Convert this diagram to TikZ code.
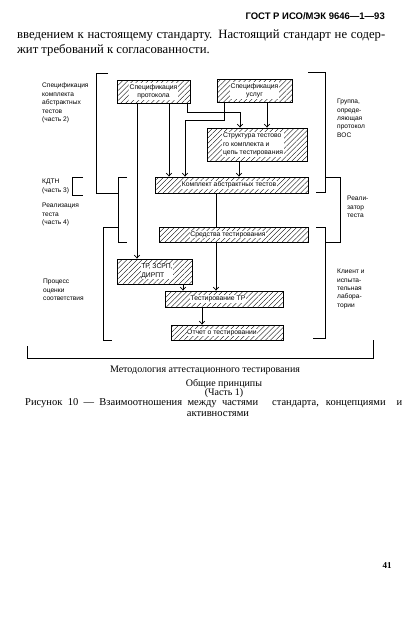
\documentclass[tikz,border=0pt]{standalone}
\usepackage{fontspec}
\setmainfont{Liberation Serif}
\newfontfamily\lsans{Liberation Sans}
\usetikzlibrary{patterns.meta,arrows.meta}
\begin{document}
\begin{tikzpicture}[x=1pt,y=-1pt,
  hbox/.style={draw, line width=0.9pt, pattern={Lines[angle=45,distance=3.6pt,line width=0.35pt]}, inner sep=0pt},
  lbl/.style={fill=white, inner sep=0.6pt, font=\lsans\fontsize{6.8}{8.5}\selectfont, align=center},
  conn/.style={line width=0.7pt},
  arr/.style={conn, -{Straight Barb[length=3pt,width=5.5pt]}},
  brk/.style={line width=0.8pt},
  side/.style={font=\lsans\fontsize{6.6}{8.4}\selectfont, align=left, anchor=north west, inner sep=0pt},
  body/.style={font=\fontsize{12.7}{15}\selectfont, anchor=base west, inner sep=0pt},
  captext/.style={font=\fontsize{10}{12}\selectfont, anchor=base, inner sep=0pt},
  figtext/.style={font=\fontsize{10.5}{12}\selectfont, inner sep=0pt}]
\useasboundingbox (0,0) rectangle (418,626);
\fill[white] (0,0) rectangle (418,626);

% header and paragraph
\node[anchor=base east, inner sep=0pt, font=\lsans\bfseries\fontsize{9.5}{12}\selectfont] (hdr) at (385,20) {ГОСТ Р ИСО/МЭК 9646—1—93};
\node[body] (p1) at (17,38) {\makebox[368pt][s]{введением к настоящему стандарту. Настоящий стандарт не содер-}};
\node[body] (p2) at (17,53) {жит требований к согласованности.};

% boxes
\node[hbox, minimum width=73pt, minimum height=23pt] (prot) at (153.5,91.5) {};
\node[lbl] (protl) at (prot) {Спецификация\\протокола};
\node[hbox, minimum width=75pt, minimum height=23pt] (uslug) at (254.5,90.5) {};
\node[lbl] (uslugl) at (uslug) {Спецификация\\услуг};
\node[hbox, minimum width=100pt, minimum height=33pt] (struct) at (257,144.5) {};
\node[lbl, align=left] (structl) at (253,144.5) {Структура тестово\\го комплекта и\\цепь тестирования};
\node[hbox, minimum width=153pt, minimum height=16pt] (kompl) at (231.5,185) {};
\node[lbl] (kompll) at (229,185) {Комплект абстрактных тестов};
\node[hbox, minimum width=149pt, minimum height=15pt] (sredst) at (233.5,234.5) {};
\node[lbl] (sredstl) at (228,234.5) {Средства тестирования};
\node[hbox, minimum width=75pt, minimum height=25pt] (tr) at (154.5,271.5) {};
\node[lbl, align=left] (trl) at (157,271.5) {ТР, ЗСРП,\\ДИРПТ};
\node[hbox, minimum width=118pt, minimum height=16pt] (testtr) at (224,299) {};
\node[lbl] (testtrl) at (218,299) {Тестирование ТР};
\node[hbox, minimum width=112pt, minimum height=15pt] (otchet) at (227,332.5) {};
\node[lbl] (otchetl) at (222,332.5) {Отчет о тестировании};

% connectors
\draw[arr] ([xshift=-16.5pt]prot.south) -- ([xshift=-16.5pt]prot.south |- tr.north);
\draw[arr] ([xshift=15.5pt]prot.south) -- ([xshift=15.5pt]prot.south |- kompl.north);
\draw[arr] ([xshift=33.5pt]prot.south) -- ++(0,9) -| ([xshift=-17pt]struct.north);
\draw[arr] ([xshift=-30.5pt]uslug.south) -- ++(0,18) -| ([xshift=-46.5pt]kompl.north);
\draw[arr] ([xshift=12.5pt]uslug.south) -- ([xshift=12.5pt]uslug.south |- struct.north);
\draw[arr] ([xshift=-18pt]struct.south) -- ([xshift=-18pt]struct.south |- kompl.north);
\draw[conn] ([xshift=-15.5pt]kompl.south) -- ([xshift=-15.5pt]kompl.south |- sredst.north);
\draw[arr] ([xshift=-17.5pt]sredst.south) -- ([xshift=-17.5pt]sredst.south |- testtr.north);
\draw[arr] ([xshift=28.5pt]tr.south) -- ([xshift=28.5pt]tr.south |- testtr.north);
\draw[arr] ([xshift=-22pt]testtr.south) -- ([xshift=-22pt]testtr.south |- otchet.north);

% left brackets
\draw[brk] (108,73) -- (96,73) -- (96,193) -- (118,193);
\draw[brk] (127,177) -- (118,177) -- (118,242) -- (127,242);
\draw[brk] (118,227) -- (103,227) -- (103,340) -- (112,340);
\draw[brk] (83,177) -- (72,177) -- (72,195) -- (83,195);
% right brackets
\draw[brk] (308,72) -- (325,72) -- (325,192) -- (316,192);
\draw[brk] (325,177) -- (340,177) -- (340,242) -- (325,242);
\draw[brk] (316,227) -- (325,227) -- (325,338) -- (313,338);
% bottom bracket
\draw[brk] (27,346) -- (27,358) -- (373,358) -- (373,340);

% side labels
\node[side] (lspec) at (42,83) {Спецификация\\комплекта\\абстрактных\\тестов\\(часть 2)};
\node[side] (lkdtn) at (42,179) {КДТН\\(часть 3)};
\node[side] (lreal) at (42,203) {Реализация\\теста\\(часть 4)};
\node[side] (lproc) at (43,279) {Процесс\\оценки\\соответствия};
\node[side] (rgrp) at (337,99) {Группа,\\опреде-\\ляющая\\протокол\\ВОС};
\node[side] (rreal) at (347,196) {Реали-\\затор\\теста};
\node[side] (rcli) at (337,269) {Клиент и\\испыта-\\тельная\\лабора-\\тории};

% caption
\node[captext] (c1) at (205,372) {Методология аттестационного тестирования};
\node[captext] (c2) at (224,386) {Общие принципы};
\node[captext] (c3) at (224,395) {(Часть 1)};
\node[figtext, anchor=base west] (c4) at (25,405) {\makebox[233pt][s]{Рисунок 10 — Взаимоотношения между частями}\hspace{14pt}стандарта,\hspace{7pt}концепциями\hspace{11pt}и};
\node[figtext, anchor=base] (c5) at (218,416) {активностями};
\node[anchor=base, inner sep=0pt, font=\bfseries\fontsize{9}{11}\selectfont] (pg) at (387,568) {41};
\end{tikzpicture}
\end{document}
